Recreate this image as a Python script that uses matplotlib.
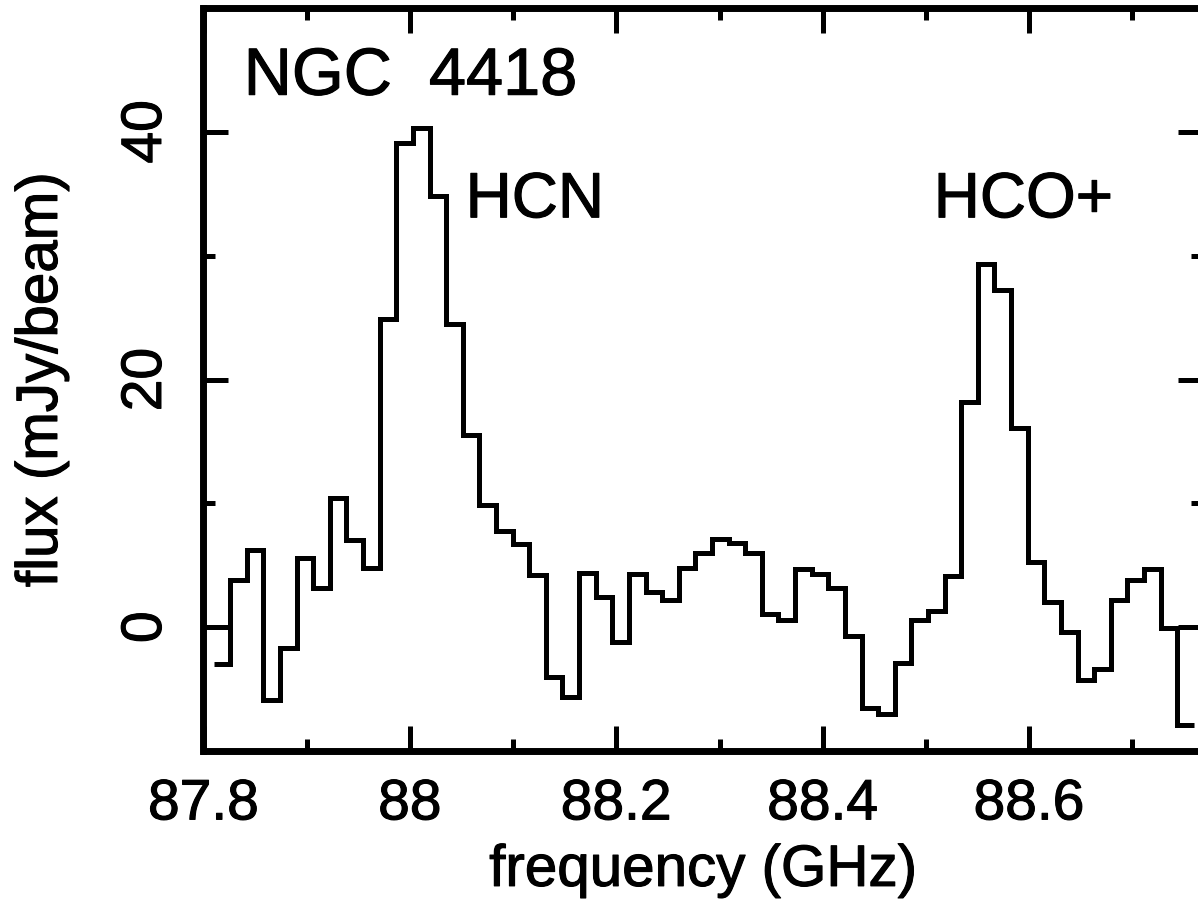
import numpy as np
import matplotlib
matplotlib.use("Agg")
import matplotlib.pyplot as plt
import matplotlib.patheffects as pe
from matplotlib.ticker import MultipleLocator, FixedLocator

# Spectrum of NGC 4418: channel flux densities (mJy/beam)
flux = [
    -3.0, 3.8, 6.2, -5.9, -1.7, 5.6, 3.2, 10.4, 7.0, 4.8,
    24.9, 39.1, 40.3, 34.8, 24.5, 15.5, 9.9, 7.8, 6.7, 4.2,
    -4.0, -5.6, 4.4, 2.4, -1.2, 4.3, 2.8, 2.2, 4.8, 6.0,
    7.1, 6.8, 6.0, 1.1, 0.6, 4.7, 4.3, 3.2, -0.7, -6.5,
    -7.0, -2.9, 0.6, 1.3, 4.1, 18.2, 29.3, 27.2, 16.1, 5.3,
    2.0, -0.4, -4.3, -3.4, 2.2, 3.8, 4.7, -0.1, -7.9,
]
chan_start = 87.8097   # GHz, low edge of first channel
chan_width = 0.0161    # GHz per channel
edges = chan_start + chan_width * np.arange(len(flux) + 1)

x_ticks = [87.8, 88.0, 88.2, 88.4, 88.6]
x_ticklabels = ["87.8", "88", "88.2", "88.4", "88.6"]
y_ticks = [0, 20, 40]
y_ticklabels = ["0", "20", "40"]

plt.rcParams["font.family"] = ["Liberation Sans", "DejaVu Sans"]
heavy = [pe.withStroke(linewidth=0.8, foreground="black")]

W, H = 1198, 903
fig = plt.figure(figsize=(W / 100, H / 100), dpi=100)
ax = fig.add_axes([203.5 / W, (H - 752) / H, (1203 - 203.5) / W, (752 - 9) / H])

ax.stairs(flux, edges, baseline=None, color="black", linewidth=3.6)

ax.set_xlim(87.8, 88.7685)
ax.set_ylim(-10, 50)

ax.xaxis.set_major_locator(FixedLocator(x_ticks))
ax.set_xticklabels(x_ticklabels)
ax.xaxis.set_minor_locator(MultipleLocator(0.1))
ax.yaxis.set_major_locator(FixedLocator(y_ticks))
ax.set_yticklabels(y_ticklabels)
ax.yaxis.set_minor_locator(MultipleLocator(10))

for side in ax.spines.values():
    side.set_linewidth(5)

ax.tick_params(which="both", direction="in", top=True, right=True,
               width=3.6, labelsize=41)
ax.tick_params(which="major", length=18)
ax.tick_params(which="minor", length=8.5)
ax.tick_params(axis="x", which="major", pad=19)
ax.tick_params(axis="y", which="major", pad=22, labelrotation=90)
for lbl in ax.get_yticklabels():
    lbl.set_va("center")
for lbl in ax.get_xticklabels() + ax.get_yticklabels():
    lbl.set_path_effects(heavy)

ax.set_xlabel("frequency (GHz)", fontsize=42, labelpad=9, path_effects=heavy)
ax.set_ylabel("flux (mJy/beam)", fontsize=42, labelpad=36, path_effects=heavy)

ax.text(87.839, 43.0, "NGC  4418", fontsize=48, va="baseline", ha="left",
        path_effects=heavy)
ax.text(88.054, 33.1, "HCN", fontsize=46, va="baseline", ha="left",
        path_effects=heavy)
ax.text(88.5076, 33.1, "HCO+", fontsize=46, va="baseline", ha="left",
        path_effects=heavy)

fig.savefig("out.png", dpi=100)
